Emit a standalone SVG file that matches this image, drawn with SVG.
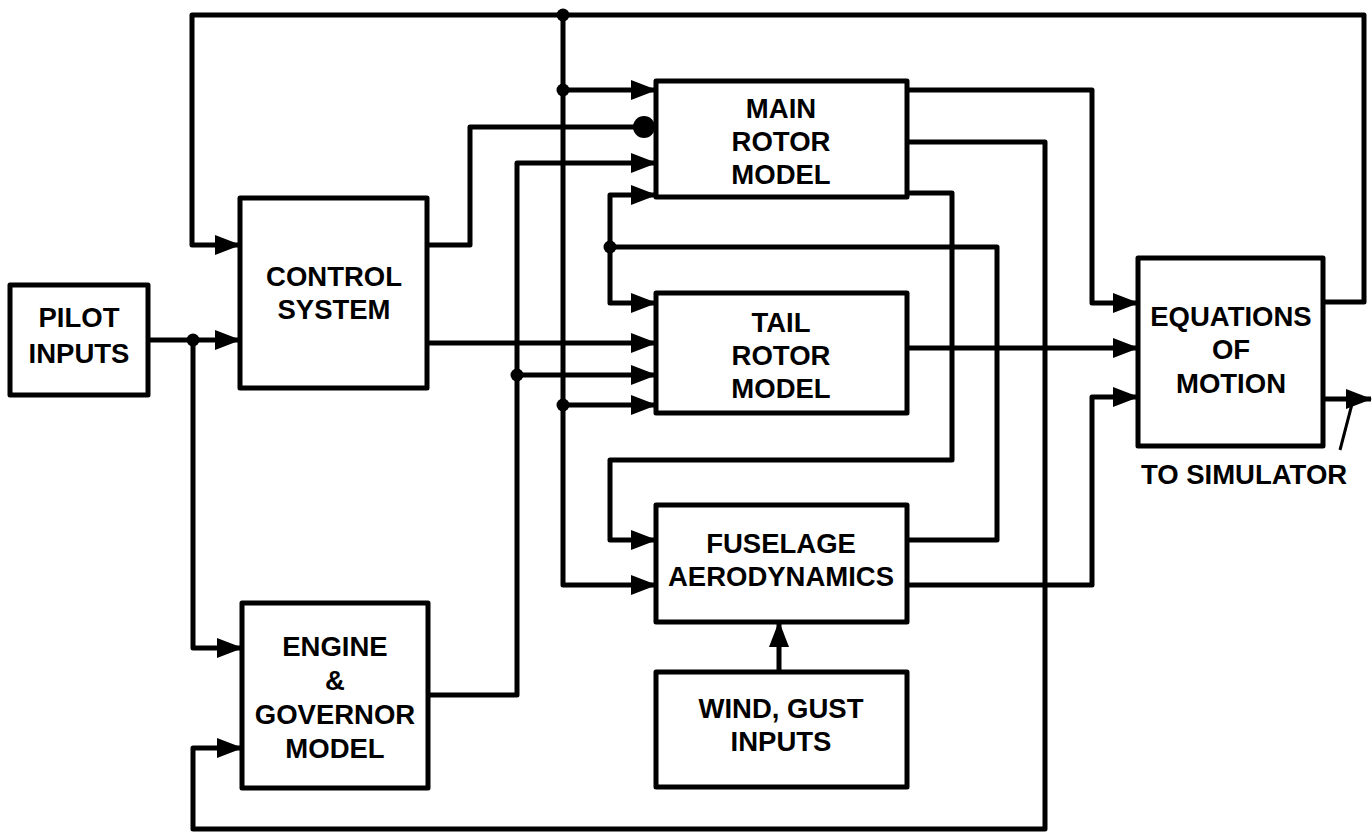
<svg xmlns="http://www.w3.org/2000/svg" width="1372" height="834" viewBox="0 0 1372 834">
<style>
.box{fill:#fff;stroke:#000;stroke-width:5;stroke-linejoin:round}
.ln{fill:none;stroke:#000;stroke-width:5;stroke-linejoin:round;stroke-linecap:butt}
.ar{marker-end:url(#arr)}
text{font-family:"Liberation Sans",Arial,Helvetica,sans-serif;font-weight:bold;font-size:27.5px;fill:#000;text-anchor:middle}
.dot{fill:#000}
</style>
<defs>
<marker id="arr" markerUnits="userSpaceOnUse" markerWidth="26" markerHeight="22" viewBox="0 0 26 22" refX="25" refY="11" orient="auto">
<path d="M0,1 L26,11 L0,21 z" fill="#000"/>
</marker>
</defs>
<rect width="1372" height="834" fill="#fff"/>
<g id="connectors">
<path class="ln ar" d="M148,340 H240"/>
<path class="ln ar" d="M193,340 V648 H242"/>
<circle class="dot" cx="193" cy="340" r="6.5"/>
<path class="ln ar" d="M1323,302 H1364 V15 H192 V245 H240"/>
<path class="ln ar" d="M563,15 V585 H656"/>
<circle class="dot" cx="563" cy="15" r="6.5"/>
<path class="ln ar" d="M563,90 H656"/>
<circle class="dot" cx="563" cy="90" r="6.5"/>
<path class="ln ar" d="M563,405 H656"/>
<circle class="dot" cx="563" cy="405" r="6.5"/>
<path class="ln" d="M427,245 H470 V127 H640"/>
<circle class="dot" cx="644" cy="127" r="11"/>
<path class="ln ar" d="M427,343 H656"/>
<path class="ln ar" d="M428,695 H517 V163 H656"/>
<path class="ln ar" d="M517,375 H656"/>
<circle class="dot" cx="517" cy="375" r="6.5"/>
<path class="ln" d="M907,540 H997 V247 H610"/>
<path class="ln ar" d="M610,247 V195 H656"/>
<path class="ln ar" d="M610,247 V303 H656"/>
<circle class="dot" cx="610" cy="247" r="6.5"/>
<path class="ln ar" d="M907,90 H1092 V303 H1138"/>
<path class="ln ar" d="M907,142 H1045 V829 H193 V748 H242"/>
<path class="ln ar" d="M907,193 H952 V460 H610 V540 H656"/>
<path class="ln ar" d="M907,348 H1138"/>
<path class="ln ar" d="M907,585 H1092 V397 H1138"/>
<path class="ln ar" d="M779,672 V622"/>
<path class="ln ar" d="M1323,399 H1371"/>
<path class="ln" d="M1352,404 L1340,450" style="stroke-width:3"/>
</g>
<g id="pilot">
<rect class="box" x="10" y="285" width="138" height="110"/>
<text x="79" y="327">PILOT</text>
<text x="79" y="363">INPUTS</text>
</g>
<g id="control">
<rect class="box" x="240" y="198" width="187" height="190"/>
<text x="334" y="286">CONTROL</text>
<text x="334" y="319">SYSTEM</text>
</g>
<g id="engine">
<rect class="box" x="242" y="603" width="186" height="185"/>
<text x="335" y="656">ENGINE</text>
<text x="335" y="690">&amp;</text>
<text x="335" y="724">GOVERNOR</text>
<text x="335" y="758">MODEL</text>
</g>
<g id="mainrotor">
<rect class="box" x="656" y="81" width="251" height="116"/>
<text x="781" y="118">MAIN</text>
<text x="781" y="151">ROTOR</text>
<text x="781" y="184">MODEL</text>
</g>
<g id="tailrotor">
<rect class="box" x="656" y="293" width="251" height="120"/>
<text x="781" y="332">TAIL</text>
<text x="781" y="365">ROTOR</text>
<text x="781" y="398">MODEL</text>
</g>
<g id="fuselage">
<rect class="box" x="656" y="505" width="251" height="117"/>
<text x="781" y="553">FUSELAGE</text>
<text x="781" y="586">AERODYNAMICS</text>
</g>
<g id="wind">
<rect class="box" x="656" y="672" width="251" height="115"/>
<text x="781" y="718">WIND, GUST</text>
<text x="781" y="751">INPUTS</text>
</g>
<g id="equations">
<rect class="box" x="1138" y="258" width="185" height="188"/>
<text x="1231" y="326">EQUATIONS</text>
<text x="1231" y="359">OF</text>
<text x="1231" y="393">MOTION</text>
</g>
<g id="simlabel">
<text x="1244" y="484">TO SIMULATOR</text>
</g>
</svg>
